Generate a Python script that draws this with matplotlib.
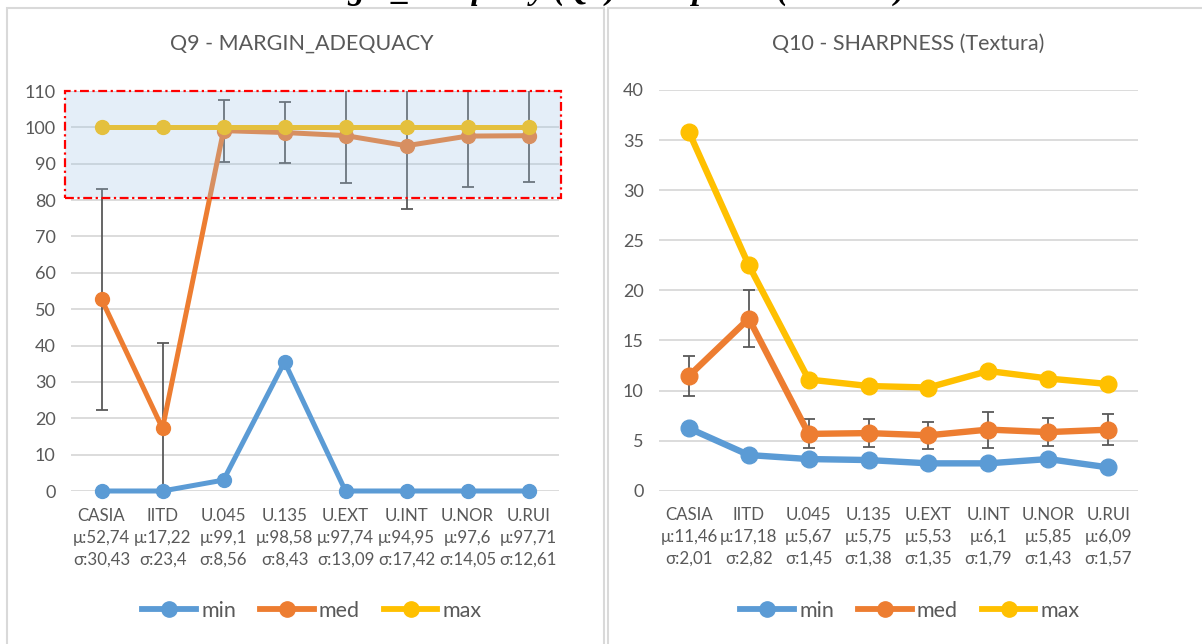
import matplotlib.pyplot as plt
from matplotlib.patches import Rectangle
from matplotlib.lines import Line2D

# datasets (x axis)
cats = ['CASIA', 'IITD', 'U.045', 'U.135', 'U.EXT', 'U.INT', 'U.NOR', 'U.RUI']

# Q9 - margin adequacy
q9_min = [0, 0, 3, 35.5, 0, 0, 0, 0]
q9_med = [52.74, 17.22, 99.1, 98.58, 97.74, 94.95, 97.6, 97.71]
q9_sd = [30.43, 23.4, 8.56, 8.43, 13.09, 17.42, 14.05, 12.61]
q9_max = [100, 100, 100, 100, 100, 100, 100, 100]

# Q10 - sharpness
q10_min = [6.23, 3.56, 3.16, 3.06, 2.73, 2.73, 3.16, 2.33]
q10_med = [11.46, 17.18, 5.67, 5.75, 5.53, 6.1, 5.85, 6.09]
q10_sd = [2.01, 2.82, 1.45, 1.38, 1.35, 1.79, 1.43, 1.57]
q10_max = [35.8, 22.5, 11.1, 10.45, 10.3, 11.95, 11.2, 10.65]

BLUE = '#5B9BD5'
ORANGE = '#ED7D31'
YELLOW = '#FFC000'
GREY = '#595959'
GRID = '#D9D9D9'

plt.rcParams['font.family'] = ['Lato', 'Noto Sans', 'DejaVu Sans']

W, H = 1202, 644
fig = plt.figure(figsize=(W / 100, H / 100), dpi=100)


def px(x, y):
    # pixel position -> figure fraction
    return x / W, 1 - y / H


def fmt(v):
    return str(v).replace('.', ',')


def draw(ax, vmin, vmed, vsd, vmax, ymax, ystep, ms, lw):
    x = list(range(len(cats)))
    ax.errorbar(x, vmed, yerr=vsd, fmt='none', ecolor=GREY, elinewidth=1.3,
                capsize=4.3, capthick=1.3, zorder=2)
    for vals, col in [(vmin, BLUE), (vmed, ORANGE), (vmax, YELLOW)]:
        ax.plot(x, vals, color=col, lw=lw, marker='o', ms=ms, zorder=3,
                clip_on=False)
    ax.set_xlim(-0.5, len(cats) - 0.5)
    ax.set_ylim(0, ymax)
    ax.set_yticks(range(0, ymax + 1, ystep))
    labels = [f'{c}\nμ:{fmt(m)}\nσ:{fmt(s)}' for c, m, s in zip(cats, vmed, vsd)]
    ax.set_xticks(x)
    ax.set_xticklabels(labels, linespacing=1.45)
    ax.tick_params(axis='x', length=0, pad=12, labelsize=12.2, labelcolor=GREY)
    ax.tick_params(axis='y', length=0, pad=11, labelsize=13, labelcolor=GREY)
    for s in ax.spines.values():
        s.set_visible(False)
    ax.grid(True, axis='y', color=GRID, lw=1.3, zorder=0)
    ax.set_axisbelow(True)


# panel frames
fig.patches.append(Rectangle(px(7, 660), (604 - 7) / W, (660 - 8) / H,
                             transform=fig.transFigure, fill=False,
                             edgecolor=GRID, lw=1.5))
fig.patches.append(Rectangle(px(608, 660), (1220 - 608) / W, (660 - 8) / H,
                             transform=fig.transFigure, fill=False,
                             edgecolor=GRID, lw=1.5))

ax1 = fig.add_axes([71 / W, (H - 491) / H, 488 / W, 400 / H])
draw(ax1, q9_min, q9_med, q9_sd, q9_max, 110, 10, 10, 3.6)

# highlighted region 80-110
ax1.add_patch(Rectangle((-0.6, 80.5), 8.13, 29.5, facecolor='#9DC3E6',
                        alpha=0.27, edgecolor='none', zorder=5, clip_on=False))
ax1.add_patch(Rectangle((-0.6, 80.5), 8.13, 29.5, fill=False, edgecolor='red',
                        lw=1.6, linestyle=(0, (4, 1.6, 1, 1.6)), zorder=6,
                        clip_on=False))

ax2 = fig.add_axes([659 / W, (H - 490.7) / H, 479 / W, 400.7 / H])
draw(ax2, q10_min, q10_med, q10_sd, q10_max, 40, 5, 12, 4.6)

# panel titles
fig.text(*px(302, 44), 'Q9 - MARGIN_ADEQUACY', ha='center', va='center',
         fontsize=15.5, color=GREY)
fig.text(*px(908, 44), 'Q10 - SHARPNESS (Textura)', ha='center', va='center',
         fontsize=15.5, color=GREY)

# caption cut at the top edge
fig.text(*px(598, -1.5), 'Margin_Adequacy (Q9) Sharpness (Textura)',
         ha='center', va='baseline', fontsize=24, family='Liberation Serif',
         style='italic', weight='bold', color='black')

# legends
for cx, ms in [(312, 11), (910, 11)]:
    handles = [Line2D([], [], color=c, lw=4.2, marker='o', ms=ms)
               for c in (BLUE, ORANGE, YELLOW)]
    fig.legend(handles, ['min', 'med', 'max'], loc='center',
               bbox_to_anchor=px(cx, 611), ncol=3, frameon=False,
               fontsize=15.5, handlelength=2.5, handletextpad=0.25,
               columnspacing=1.1, labelcolor=GREY)

fig.savefig('out.png', dpi=100)
